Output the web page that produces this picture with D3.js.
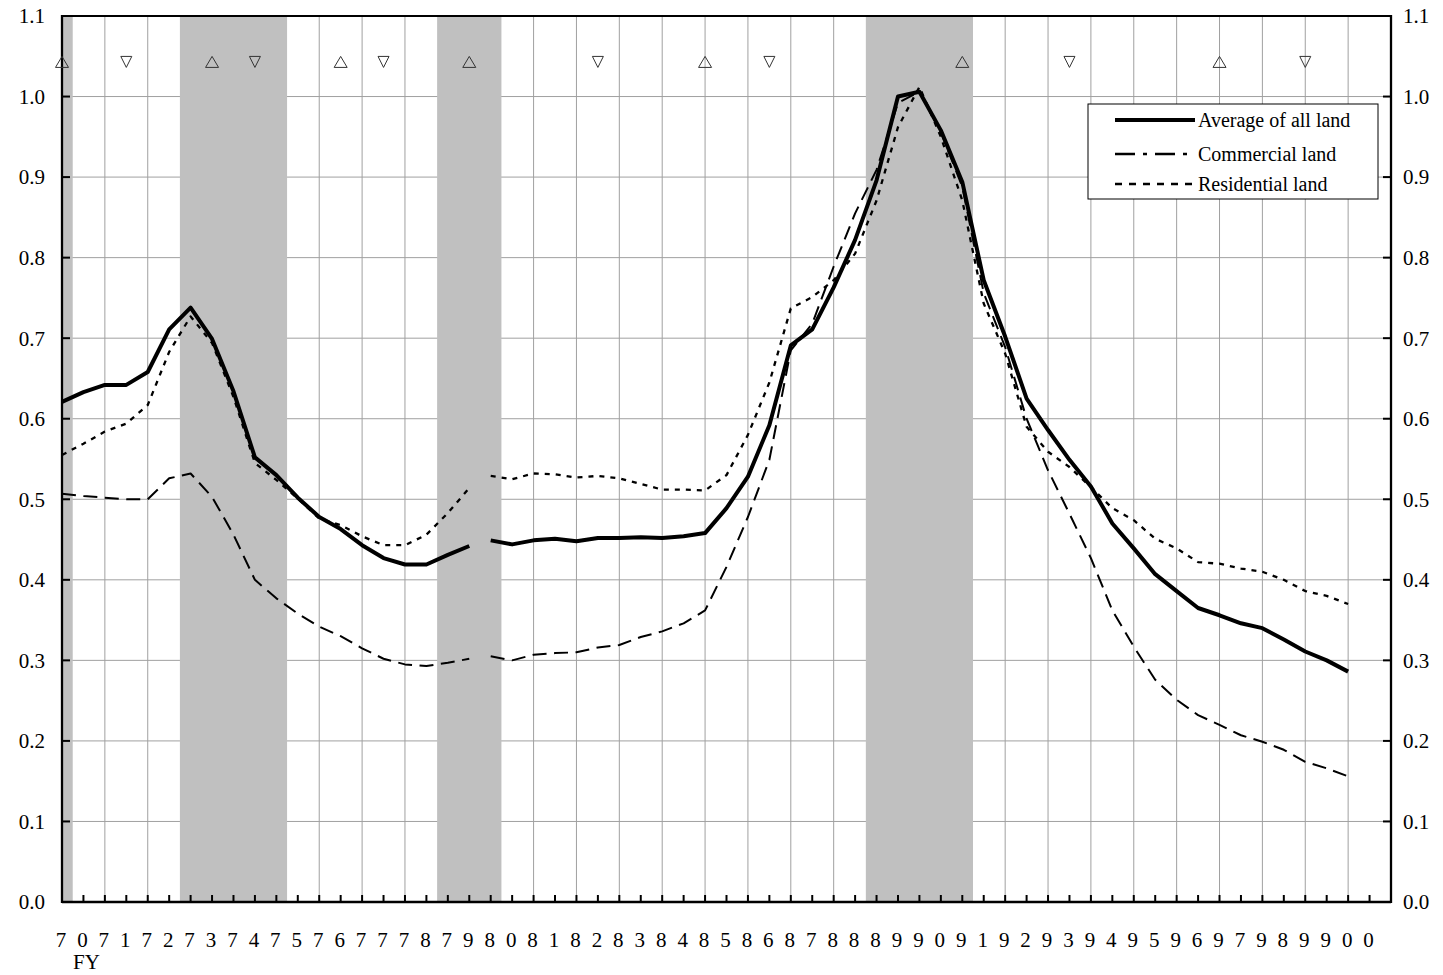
<!DOCTYPE html>
<html>
<head>
<meta charset="utf-8">
<script src="https://cdn.jsdelivr.net/npm/d3@7"></script>
<style>
  body { margin: 0; background: #fff; }
  svg { display: block; }
  text { font-family: "Liberation Serif", "Times New Roman", serif; fill: #000; }
</style>
</head>
<body>
<div id="canvas"></div>
<script>
/**
 * Data (semi-annual, FY1970 - FY2000)
 */
const seriesNames = ["Average of all land", "Commercial land", "Residential land"];

const averageLand = [
    0.621, 0.633, 0.642, 0.642, 0.658, 0.711, 0.738, 0.699, 0.634, 0.552,
    0.530, 0.502, 0.478, 0.463, 0.443, 0.427, 0.419, 0.419, 0.431, 0.442,
    0.449, 0.444, 0.449, 0.451, 0.448, 0.452, 0.452, 0.453, 0.452, 0.454,
    0.458, 0.489, 0.528, 0.592, 0.691, 0.711, 0.763, 0.822, 0.896, 1.000,
    1.006, 0.958, 0.894, 0.772, 0.702, 0.625, 0.586, 0.549, 0.516, 0.470,
    0.439, 0.407, 0.386, 0.365, 0.356, 0.346, 0.340, 0.326, 0.311, 0.300,
    0.286
];

const commercialLand = [
    0.507, 0.504, 0.502, 0.500, 0.500, 0.526, 0.532, 0.503, 0.456, 0.400,
    0.377, 0.358, 0.342, 0.330, 0.315, 0.302, 0.295, 0.293, 0.297, 0.302,
    0.305, 0.300, 0.307, 0.309, 0.310, 0.316, 0.319, 0.329, 0.336, 0.346,
    0.362, 0.416, 0.478, 0.549, 0.685, 0.718, 0.789, 0.855, 0.909, 0.992,
    1.006, 0.956, 0.888, 0.756, 0.689, 0.600, 0.536, 0.482, 0.427, 0.362,
    0.317, 0.276, 0.251, 0.232, 0.220, 0.207, 0.199, 0.189, 0.174, 0.166,
    0.156
];

const residentialLand = [
    0.555, 0.569, 0.584, 0.594, 0.617, 0.683, 0.727, 0.694, 0.627, 0.545,
    0.524, 0.501, 0.476, 0.468, 0.454, 0.443, 0.443, 0.456, 0.483, 0.514,
    0.529, 0.525, 0.532, 0.531, 0.527, 0.529, 0.526, 0.519, 0.512, 0.512,
    0.511, 0.530, 0.580, 0.645, 0.737, 0.751, 0.772, 0.805, 0.871, 0.962,
    1.012, 0.950, 0.871, 0.743, 0.681, 0.590, 0.559, 0.540, 0.515, 0.489,
    0.474, 0.451, 0.439, 0.422, 0.420, 0.414, 0.410, 0.400, 0.386, 0.380,
    0.370
];

// series are discontinued between these two periods
const seriesBreak = 1980.0;

// recession periods (shaded)
const recessionStart = [1970.0, 1972.75, 1978.75, 1988.75];
const recessionEnd = [1970.25, 1975.25, 1980.25, 1991.25];

// business cycle peaks and troughs
const cyclePeaks = [1970.0, 1973.5, 1976.5, 1979.5, 1985.0, 1991.0, 1997.0];
const cycleTroughs = [1971.5, 1974.5, 1977.5, 1982.5, 1986.5, 1993.5, 1999.0];

const yTickValues = [0, 0.1, 0.2, 0.3, 0.4, 0.5, 0.6, 0.7, 0.8, 0.9, 1.0, 1.1];
const yearLabels = ["70", "71", "72", "73", "74", "75", "76", "77", "78", "79",
    "80", "81", "82", "83", "84", "85", "86", "87", "88", "89",
    "90", "91", "92", "93", "94", "95", "96", "97", "98", "99", "00"];

/**
 * Helper Functions
 */
const firstYear = 1970;
const periods = d3.range(averageLand.length).map(i => firstYear + i * 0.5);

const toPoints = (values) => {
    return values.map((v, i) => ({ "Period": periods[i], "Value": v }));
}

function drawChart() {
    let width = 1443, height = 975;
    let margin = { top: 16, right: 52, bottom: 73, left: 62 };

    let svg = d3.select("#canvas")
        .append("svg")
        .attr("width", width)
        .attr("height", height);

    let x = d3.scaleLinear()
        .domain([firstYear, 2001])
        .range([margin.left, width - margin.right]);

    let y = d3.scaleLinear()
        .domain([0, 1.1])
        .range([height - margin.bottom, margin.top]);

    let gridColor = "#a0a0a0";

    // grid lines
    let grid = svg.append("g");
    grid.selectAll(".hgrid")
        .data(yTickValues.slice(1, -1))
        .enter()
        .append("line")
        .attr("x1", x.range()[0]).attr("x2", x.range()[1])
        .attr("y1", d => y(d)).attr("y2", d => y(d))
        .attr("stroke", gridColor).attr("stroke-width", 1);

    grid.selectAll(".vgrid")
        .data(yearLabels.slice(1).map((d, i) => firstYear + i + 1))
        .enter()
        .append("line")
        .attr("x1", d => x(d)).attr("x2", d => x(d))
        .attr("y1", y(0)).attr("y2", y(1.1))
        .attr("stroke", gridColor).attr("stroke-width", 1);

    // recession shading
    svg.append("g")
        .selectAll("rect")
        .data(recessionStart.map((s, i) => [s, recessionEnd[i]]))
        .enter()
        .append("rect")
        .attr("x", d => x(d[0]))
        .attr("width", d => x(d[1]) - x(d[0]))
        .attr("y", y(1.1))
        .attr("height", y(0) - y(1.1))
        .attr("fill", "#c0c0c0");

    // lines
    let line = d3.line()
        .x(d => x(d.Period))
        .y(d => y(d.Value));

    let styles = [
        { values: averageLand, width: 4, dash: null },
        { values: commercialLand, width: 2, dash: "14,7.5" },
        { values: residentialLand, width: 2.3, dash: "5,6" }
    ];

    let lines = svg.append("g");
    styles.forEach(s => {
        let pts = toPoints(s.values);
        let segments = [pts.filter(d => d.Period < seriesBreak), pts.filter(d => d.Period >= seriesBreak)];
        segments.forEach(seg => {
            lines.append("path")
                .datum(seg)
                .attr("fill", "none")
                .attr("stroke", "#000")
                .attr("stroke-width", s.width)
                .attr("stroke-linejoin", "round")
                .attr("stroke-dasharray", s.dash)
                .attr("d", line);
        });
    });

    // frame
    let frame = svg.append("g");
    frame.append("line")
        .attr("x1", x.range()[0]).attr("x2", x.range()[1])
        .attr("y1", y(1.1)).attr("y2", y(1.1))
        .attr("stroke", "#000").attr("stroke-width", 2);
    frame.append("line")
        .attr("x1", x.range()[0]).attr("x2", x.range()[1])
        .attr("y1", y(0)).attr("y2", y(0))
        .attr("stroke", "#000").attr("stroke-width", 2.5);
    [x.range()[0], x.range()[1]].forEach(px => {
        frame.append("line")
            .attr("x1", px).attr("x2", px)
            .attr("y1", y(0) + 1).attr("y2", y(1.1) - 1)
            .attr("stroke", "#000").attr("stroke-width", 2.3);
    });

    // y ticks (inside) and labels on both sides
    let fmt = d3.format(".1f");
    let yAxis = svg.append("g");
    yAxis.selectAll(".ltick")
        .data(yTickValues.slice(1, -1))
        .enter()
        .append("line")
        .attr("x1", x.range()[0]).attr("x2", x.range()[0] + 8)
        .attr("y1", d => y(d)).attr("y2", d => y(d))
        .attr("stroke", "#000").attr("stroke-width", 2);
    yAxis.selectAll(".rtick")
        .data(yTickValues.slice(1, -1))
        .enter()
        .append("line")
        .attr("x1", x.range()[1] - 8).attr("x2", x.range()[1])
        .attr("y1", d => y(d)).attr("y2", d => y(d))
        .attr("stroke", "#000").attr("stroke-width", 2);
    yAxis.selectAll(".llabel")
        .data(yTickValues)
        .enter()
        .append("text")
        .attr("x", x.range()[0] - 17)
        .attr("y", d => y(d))
        .attr("dy", "0.35em")
        .attr("text-anchor", "end")
        .style("font-size", "21px")
        .text(d => fmt(d));
    yAxis.selectAll(".rlabel")
        .data(yTickValues)
        .enter()
        .append("text")
        .attr("x", x.range()[1] + 12)
        .attr("y", d => y(d))
        .attr("dy", "0.35em")
        .attr("text-anchor", "start")
        .style("font-size", "21px")
        .text(d => fmt(d));

    // x ticks: every half year, pointing up
    let xAxis = svg.append("g");
    xAxis.selectAll(".xtick")
        .data(d3.range(1, 62).map(i => firstYear + i * 0.5))
        .enter()
        .append("line")
        .attr("x1", d => x(d)).attr("x2", d => x(d))
        .attr("y1", y(0)).attr("y2", y(0) - 7)
        .attr("stroke", "#000").attr("stroke-width", 2);

    // year labels, one digit per half-year slot
    let digits = [];
    yearLabels.forEach((lab, i) => {
        digits.push({ t: firstYear + i, ch: lab[0] });
        digits.push({ t: firstYear + i + 0.5, ch: lab[1] });
    });
    xAxis.selectAll(".digit")
        .data(digits)
        .enter()
        .append("text")
        .attr("x", d => x(d.t) - 1)
        .attr("y", y(0) + 45)
        .attr("text-anchor", "middle")
        .style("font-size", "21px")
        .text(d => d.ch);
    xAxis.append("text")
        .attr("x", x(firstYear + 0.5) + 3)
        .attr("y", y(0) + 67)
        .attr("text-anchor", "middle")
        .style("font-size", "21px")
        .text("FY");

    // peak and trough markers
    let markerLevel = 1.043;
    let mw = 6.5, mh = 5.5;
    let markers = svg.append("g");
    markers.selectAll(".peak")
        .data(cyclePeaks)
        .enter()
        .append("path")
        .attr("d", d => {
            let cx = x(d), cy = y(markerLevel);
            return `M${cx},${cy - mh}L${cx + mw},${cy + mh}L${cx - mw},${cy + mh}Z`;
        })
        .attr("fill", "none").attr("stroke", "#333").attr("stroke-width", 1);
    markers.selectAll(".trough")
        .data(cycleTroughs)
        .enter()
        .append("path")
        .attr("d", d => {
            let cx = x(d), cy = y(markerLevel);
            return `M${cx - 5.5},${cy - mh}L${cx + 5.5},${cy - mh}L${cx},${cy + mh}Z`;
        })
        .attr("fill", "none").attr("stroke", "#333").attr("stroke-width", 1);

    // legend
    let legend = svg.append("g").attr("transform", "translate(1088,104)");
    legend.append("rect")
        .attr("width", 290).attr("height", 95)
        .attr("fill", "#fff").attr("stroke", "#000").attr("stroke-width", 1);
    let rowY = [16, 50, 80];
    seriesNames.forEach((name, i) => {
        legend.append("line")
            .attr("x1", 27).attr("x2", 107)
            .attr("y1", rowY[i]).attr("y2", rowY[i])
            .attr("stroke", "#000")
            .attr("stroke-width", i === 0 ? 4 : 2.5)
            .attr("stroke-dasharray", i === 0 ? null : (i === 1 ? "20,8,4,8" : "7,7"));
        legend.append("text")
            .attr("x", 110)
            .attr("y", rowY[i] + 7)
            .style("font-size", "20px")
            .text(name);
    });
}

drawChart();
</script>
</body>
</html>
